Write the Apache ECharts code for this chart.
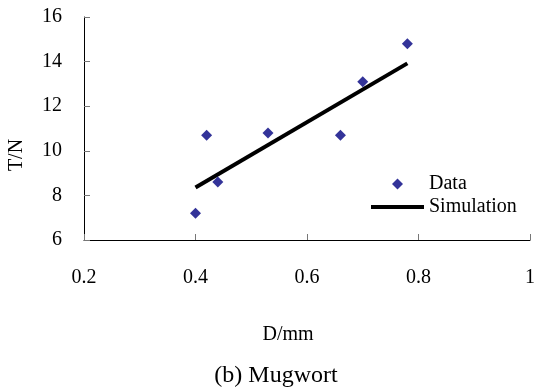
<!DOCTYPE html>
<html>
<head>
<meta charset="utf-8">
<script src="https://cdn.jsdelivr.net/npm/echarts@6/dist/echarts.min.js"></script>
<style>
  html, body { margin: 0; padding: 0; background: #fff; }
  #chart { width: 538px; height: 387px; }
</style>
</head>
<body>
<div id="chart"></div>
<script>
const dataD = [0.40, 0.42, 0.44, 0.53, 0.66, 0.70, 0.78];
const dataT = [7.2, 10.7, 8.6, 10.8, 10.7, 13.1, 14.8];
const simD = [0.40, 0.78];
const simT = [8.35, 13.92];

const font = "Liberation Serif";
const chart = echarts.init(document.getElementById("chart"));

chart.setOption({
  backgroundColor: "#fff",
  animation: false,
  textStyle: { fontFamily: font, color: "#000" },
  grid: { left: 84, top: 17, right: 4, bottom: 147 },
  xAxis: {
    type: "value",
    min: 0.2,
    max: 1,
    interval: 0.2,
    axisLine: { lineStyle: { color: "#000", width: 1 } },
    axisTick: { inside: true, length: 6, lineStyle: { color: "#777" } },
    axisLabel: { fontSize: 20, margin: 28, color: "#000", fontFamily: font },
    splitLine: { show: false }
  },
  yAxis: {
    type: "value",
    min: 6,
    max: 16,
    interval: 2,
    axisLine: { show: true, lineStyle: { color: "#000", width: 1 } },
    axisTick: { show: true, inside: true, length: 6, lineStyle: { color: "#777" } },
    axisLabel: { fontSize: 20, margin: 22, color: "#000", fontFamily: font },
    splitLine: { show: false }
  },
  legend: [
    {
      data: [{ name: "Data", icon: "diamond" }],
      left: 392,
      top: 174,
      padding: 0,
      itemWidth: 11,
      itemHeight: 11,
      itemGap: 0,
      textStyle: { fontSize: 20, fontFamily: font, color: "#000", padding: [0, 0, 0, 21] }
    },
    {
      data: [{ name: "Simulation", icon: "rect" }],
      left: 371,
      top: 197,
      padding: 0,
      itemWidth: 53,
      itemHeight: 4,
      itemGap: 0,
      textStyle: { fontSize: 20, fontFamily: font, color: "#000" }
    }
  ],
  graphic: [
    {
      type: "text",
      x: 17,
      y: 155,
      rotation: Math.PI / 2,
      style: { text: "T/N", font: "20px " + font, fill: "#000", align: "center", verticalAlign: "middle" }
    },
    {
      type: "text",
      x: 288,
      y: 335,
      style: { text: "D/mm", font: "20px " + font, fill: "#000", align: "center", verticalAlign: "middle" }
    },
    {
      type: "text",
      x: 276,
      y: 376,
      style: { text: "(b) Mugwort", font: "24px " + font, fill: "#000", align: "center", verticalAlign: "middle" }
    }
  ],
  series: [
    {
      name: "Simulation",
      type: "line",
      data: simD.map((d, i) => [d, simT[i]]),
      showSymbol: false,
      symbol: "none",
      lineStyle: { color: "#000", width: 4 },
      itemStyle: { color: "#000" },
      z: 2
    },
    {
      name: "Data",
      type: "scatter",
      data: dataD.map((d, i) => [d, dataT[i]]),
      symbol: "diamond",
      symbolSize: 11,
      itemStyle: { color: "#000080" },
      z: 3
    }
  ]
});
</script>
</body>
</html>
